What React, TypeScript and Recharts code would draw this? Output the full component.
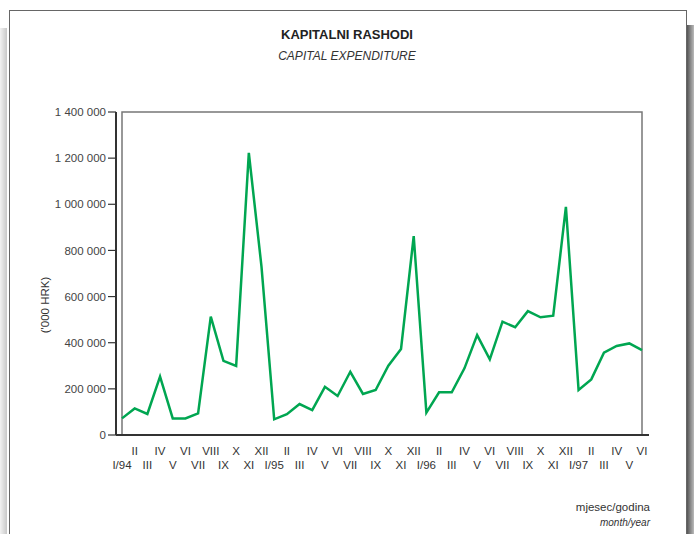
import React from "react";
import {
  LineChart,
  Line,
  XAxis,
  YAxis,
  ReferenceArea,
} from "recharts";

const months = [
  "I/94", "II", "III", "IV", "V", "VI", "VII", "VIII", "IX", "X", "XI", "XII",
  "I/95", "II", "III", "IV", "V", "VI", "VII", "VIII", "IX", "X", "XI", "XII",
  "I/96", "II", "III", "IV", "V", "VI", "VII", "VIII", "IX", "X", "XI", "XII",
  "I/97", "II", "III", "IV", "V", "VI",
];

const expenditure = [
  72000, 115000, 91000, 253000, 72000, 72000, 94000, 513000, 321000, 299000, 1223000, 729000,
  68000, 90000, 134000, 108000, 209000, 169000, 274000, 178000, 195000, 300000, 373000, 862000,
  97000, 185000, 185000, 289000, 433000, 328000, 491000, 467000, 537000, 510000, 517000, 989000,
  195000, 241000, 357000, 386000, 397000, 368000,
];

const yTicks = [0, 200000, 400000, 600000, 800000, 1000000, 1200000, 1400000];

const data = months.map((m, i) => ({ key: i, month: m, value: expenditure[i] }));

const font = "'Liberation Sans', Arial, sans-serif";

const fmt = (v: number) => String(v).replace(/\B(?=(\d{3})+(?!\d))/g, " ");

function MonthTick(props: any) {
  const { x, y, payload, index } = props;
  const upper = index % 2 === 1;
  return (
    <text
      x={x}
      y={y + (upper ? 20 : 34)}
      textAnchor="middle"
      fontSize={11.5}
      fontFamily={font}
      fill="#333"
    >
      {months[payload.value]}
    </text>
  );
}

export default function App() {
  return (
    <div
      style={{
        position: "absolute",
        left: 0,
        top: 0,
        width: 694,
        height: 534,
        background: "#fff",
        overflow: "hidden",
        fontFamily: font,
      }}
    >
      {/* page shadows */}
      <div
        style={{
          position: "absolute",
          left: 0,
          top: 28,
          width: 7,
          height: 520,
          background: "linear-gradient(to right, #f2f2f2, #c8c8c8)",
        }}
      />
      <div
        style={{
          position: "absolute",
          left: 687,
          top: 25,
          width: 7,
          height: 520,
          background: "linear-gradient(to right, #555, #bbb)",
        }}
      />
      {/* frame */}
      <div
        style={{
          position: "absolute",
          left: 9,
          top: 10,
          width: 676,
          height: 540,
          border: "1.5px solid #666",
          background: "#fff",
        }}
      />
      <div
        style={{
          position: "absolute",
          left: 0,
          width: 694,
          top: 27,
          textAlign: "center",
          fontSize: 13,
          fontWeight: "bold",
          color: "#222",
        }}
      >
        KAPITALNI RASHODI
      </div>
      <div
        style={{
          position: "absolute",
          left: 0,
          width: 694,
          top: 49,
          textAlign: "center",
          fontSize: 12,
          fontStyle: "italic",
          color: "#333",
        }}
      >
        CAPITAL EXPENDITURE
      </div>
      <div
        style={{
          position: "absolute",
          left: 45,
          top: 305,
          transform: "translate(-50%, -50%) rotate(-90deg)",
          fontSize: 11.5,
          color: "#333",
          whiteSpace: "nowrap",
        }}
      >
        ('000 HRK)
      </div>
      <div
        style={{
          position: "absolute",
          right: 44,
          top: 499,
          textAlign: "right",
          fontSize: 11.5,
          color: "#333",
          lineHeight: "16px",
        }}
      >
        <div>mjesec/godina</div>
        <div style={{ fontStyle: "italic", fontSize: 10 }}>month/year</div>
      </div>
      <div style={{ position: "absolute", left: 0, top: 0 }}>
        <LineChart
          width={694}
          height={534}
          data={data}
          margin={{ top: 112, right: 45, bottom: 59, left: 46 }}
        >
          <ReferenceArea
            y1={0}
            y2={1400000}
            fill="none"
            stroke="#777"
            strokeWidth={1.5}
            ifOverflow="visible"
          />
          <XAxis
            dataKey="key"
            type="category"
            interval={0}
            height={40}
            padding={{ left: 6, right: 7 }}
            tickLine={false}
            tickSize={0}
            tickMargin={0}
            axisLine={{ stroke: "#333", strokeWidth: 2 }}
            tick={<MonthTick />}
          />
          <YAxis
            width={70}
            domain={[0, 1400000]}
            ticks={yTicks}
            tickFormatter={fmt}
            tickSize={8}
            tickMargin={2}
            axisLine={{ stroke: "#333", strokeWidth: 2 }}
            tickLine={{ stroke: "#333", strokeWidth: 1.2 }}
            tick={{ fill: "#444", fontSize: 11.5, fontFamily: font }}
          />
          <Line
            type="linear"
            dataKey="value"
            stroke="#00a651"
            strokeWidth={2.5}
            dot={false}
            isAnimationActive={false}
          />
        </LineChart>
      </div>
    </div>
  );
}
